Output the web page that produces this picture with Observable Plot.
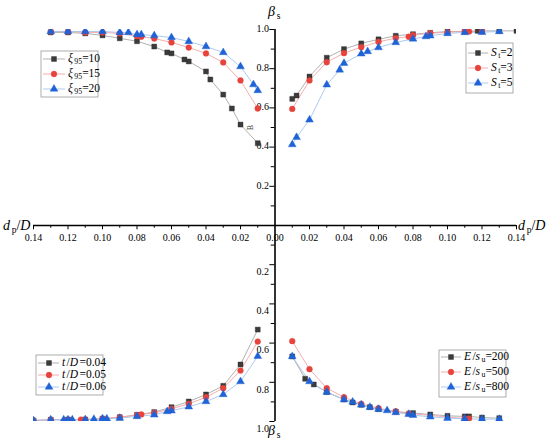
<!DOCTYPE html>
<html><head><meta charset="utf-8">
<script src="https://cdn.jsdelivr.net/npm/d3@7"></script>
<script src="https://cdn.jsdelivr.net/npm/@observablehq/plot@0.6"></script>
<style>body{margin:0;background:#fff} #chart{width:550px;height:447px}</style>
</head><body><div id="chart"></div>
<script>
// ---- Data: top-left quadrant (xi95), x = d_p/D, b = beta_s
const xi10_x = [0.13,0.12,0.11,0.10,0.09,0.08,0.07,0.0625,0.06,0.0525,0.05,0.04,0.0375,0.03,0.025,0.02,0.01];
const xi10_b = [0.985,0.985,0.98,0.97,0.955,0.94,0.913,0.883,0.878,0.847,0.837,0.786,0.745,0.668,0.597,0.515,0.42];
const xi15_x = [0.13,0.12,0.11,0.10,0.09,0.08,0.0775,0.07,0.06,0.05,0.04,0.03,0.02,0.01];
const xi15_b = [0.99,0.99,0.985,0.985,0.98,0.966,0.963,0.954,0.934,0.908,0.878,0.832,0.74,0.597];
const xi20_x = [0.13,0.12,0.11,0.10,0.09,0.085,0.08,0.0775,0.07,0.06,0.05,0.04,0.03,0.02,0.0125,0.01];
const xi20_b = [0.99,0.99,0.99,0.99,0.985,0.985,0.974,0.974,0.969,0.959,0.939,0.913,0.883,0.811,0.719,0.689];
// ---- top-right quadrant (S_t)
const st2_x = [0.01,0.0125,0.02,0.03,0.04,0.05,0.06,0.07,0.08,0.09,0.10,0.11,0.1175,0.12,0.13,0.14];
const st2_b = [0.646,0.663,0.76,0.856,0.90,0.929,0.95,0.968,0.976,0.983,0.99,0.99,0.993,0.993,0.993,0.993];
const st3_x = [0.01,0.02,0.03,0.04,0.05,0.06,0.07,0.0775,0.08,0.09,0.10,0.11,0.1125,0.12];
const st3_b = [0.595,0.74,0.833,0.879,0.91,0.937,0.956,0.963,0.971,0.981,0.986,0.99,0.99,0.99];
const st5_x = [0.01,0.0125,0.02,0.03,0.0375,0.04,0.05,0.0537,0.06,0.07,0.08,0.0875,0.09,0.10,0.11,0.12,0.13];
const st5_b = [0.413,0.45,0.539,0.718,0.794,0.828,0.876,0.888,0.908,0.934,0.952,0.964,0.968,0.98,0.985,0.986,0.99];
// ---- bottom-left quadrant (t/D)
const td04_x = [0.01,0.02,0.03,0.04,0.05,0.06,0.07,0.08,0.09,0.10,0.11,0.12,0.13,0.14];
const td04_b = [0.531,0.709,0.818,0.862,0.898,0.927,0.952,0.966,0.978,0.986,0.99,0.99,0.991,0.995];
const td05_x = [0.01,0.02,0.03,0.04,0.05,0.06,0.07,0.0775,0.08,0.09,0.10,0.11,0.1125,0.12,0.13,0.14];
const td05_b = [0.592,0.74,0.83,0.876,0.91,0.935,0.956,0.964,0.968,0.978,0.985,0.99,0.99,0.99,0.991,0.995];
const td06_x = [0.01,0.02,0.03,0.04,0.05,0.06,0.0625,0.07,0.08,0.09,0.0975,0.10,0.105,0.11,0.1175,0.12,0.1225,0.13,0.14];
const td06_b = [0.667,0.796,0.862,0.898,0.925,0.945,0.949,0.966,0.974,0.983,0.986,0.986,0.988,0.99,0.991,0.991,0.991,0.991,0.995];
// ---- bottom-right quadrant (E/s_u)
const es200_x = [0.01,0.0175,0.0225,0.03,0.04,0.045,0.05,0.055,0.06,0.07,0.08,0.09,0.10,0.11,0.1125,0.12,0.13];
const es200_b = [0.668,0.782,0.811,0.85,0.888,0.903,0.915,0.927,0.937,0.949,0.957,0.964,0.971,0.974,0.974,0.98,0.983];
const es500_x = [0.01,0.02,0.03,0.04,0.05,0.06,0.07,0.0775,0.11,0.1125];
const es500_b = [0.59,0.733,0.83,0.876,0.91,0.932,0.949,0.959,0.985,0.985];
const es800_x = [0.01,0.02,0.03,0.04,0.045,0.05,0.055,0.06,0.065,0.07,0.0775,0.08,0.09,0.10,0.11,0.12,0.13];
const es800_b = [0.668,0.796,0.85,0.888,0.90,0.915,0.927,0.937,0.944,0.954,0.963,0.968,0.976,0.983,0.986,0.988,0.988];

// tick labels
const xTickLabels = ["0.14","0.12","0.10","0.08","0.06","0.04","0.02","0.00","0.02","0.04","0.06","0.08","0.10","0.12","0.14"];
const yTickLabelsTop = ["0.2","0.4","0.6","0.8","1.0"];
const yTickLabelsBottom = ["0.2","0.4","0.6","0.8","1.0"];

// legend labels: [text, style] where style i=italic, sub=subscript
const legTL = [[["ξ","i"],["95","sub"],["=10",""]],[["ξ","i"],["95","sub"],["=15",""]],[["ξ","i"],["95","sub"],["=20",""]]];
const legTR = [[["S","i"],["t","sub"],["=2",""]],[["S","i"],["t","sub"],["=3",""]],[["S","i"],["t","sub"],["=5",""]]];
const legBL = [[["t","i"],["/",""],["D","i"],["=0.04",""]],[["t","i"],["/",""],["D","i"],["=0.05",""]],[["t","i"],["/",""],["D","i"],["=0.06",""]]];
const legBR = [[["E","i"],["/",""],["s","i"],["u","sub"],["=200",""]],[["E","i"],["/",""],["s","i"],["u","sub"],["=500",""]],[["E","i"],["/",""],["s","i"],["u","sub"],["=800",""]]];

const styles = [
  {symbol:"square", fill:"#3b3b3b", stroke:"#2a2a2a", line:"#a8a8a8", r:2.8},
  {symbol:"circle", fill:"#e8423c", stroke:"#e8423c", line:"#f3a5a3", r:2.9},
  {symbol:"triangle", fill:"#1f63d6", stroke:"#1f63d6", line:"#a3c4ef", r:2.9}
];

const series = [
  {xs:xi10_x, bs:xi10_b, sx:-1, sy:1, k:0},
  {xs:xi15_x, bs:xi15_b, sx:-1, sy:1, k:1},
  {xs:xi20_x, bs:xi20_b, sx:-1, sy:1, k:2},
  {xs:st2_x, bs:st2_b, sx:1, sy:1, k:0},
  {xs:st3_x, bs:st3_b, sx:1, sy:1, k:1},
  {xs:st5_x, bs:st5_b, sx:1, sy:1, k:2},
  {xs:td04_x, bs:td04_b, sx:-1, sy:-1, k:0},
  {xs:td05_x, bs:td05_b, sx:-1, sy:-1, k:1},
  {xs:td06_x, bs:td06_b, sx:-1, sy:-1, k:2},
  {xs:es200_x, bs:es200_b, sx:1, sy:-1, k:0},
  {xs:es500_x, bs:es500_b, sx:1, sy:-1, k:1},
  {xs:es800_x, bs:es800_b, sx:1, sy:-1, k:2}
];

const font = "'Liberation Serif', 'DejaVu Serif', 'Times New Roman', serif";
const marks = [];

marks.push(Plot.ruleY([0], {x1:-0.14, x2:0.14, stroke:"#000", strokeWidth:1.6}));
marks.push(Plot.ruleX([0], {y1:-1, y2:1, stroke:"#000", strokeWidth:1.6}));
const xTicks = d3.range(-14, 15).filter(i => i !== 0).map(i => ({v: i/100, major: i % 2 === 0}));
marks.push(Plot.ruleX(xTicks, {x:"v", y1:0, y2: d => d.major ? -0.022 : -0.014, stroke:"#000", strokeWidth:1}));
const xLabelVals = d3.range(-14, 15, 2).map(i => i/100);
marks.push(Plot.text(xLabelVals, {x: d => d, y: 0, dy: 12, text: (d, i) => xTickLabels[i], fontSize: 10, fill:"#000"}));
const yTicks = d3.range(-10, 11).filter(i => i !== 0).map(i => ({v: i/10, major: i % 2 === 0}));
marks.push(Plot.ruleY(yTicks, {y:"v", x1:0, x2: d => d.major ? -0.003 : -0.0022, stroke:"#000", strokeWidth:1}));
const yLabTop = [0.2,0.4,0.6,0.8,1.0];
marks.push(Plot.text(yLabTop, {x:0, y: d => d, dx:-6, dy:-1, textAnchor:"end", text:(d,i)=>yTickLabelsTop[i], fontSize:10, fill:"#000"}));
marks.push(Plot.text(yLabTop, {x:0, y: d => -d, dx:-6, dy:7, textAnchor:"end", text:(d,i)=>yTickLabelsBottom[i], fontSize:10, fill:"#000"}));

for (const s of series) {
  const st = styles[s.k];
  const rows = s.xs.map((x, i) => ({x: s.sx * x, y: s.sy * s.bs[i]}));
  marks.push(Plot.line(rows, {x:"x", y:"y", stroke: st.line, strokeWidth: 0.9, clip: true}));
}
for (const k of [0,1,2]) {
  for (const s of series.filter(d => d.k === k)) {
    const st = styles[s.k];
    const rows = s.xs.map((x, i) => ({x: s.sx * x, y: s.sy * s.bs[i]}));
    marks.push(Plot.dot(rows, {x:"x", y:"y", symbol: st.symbol, r: st.r, fill: st.fill, stroke: st.stroke, strokeWidth: 0.4, clip: true}));
  }
}
marks.push(Plot.text(["B"], {x: -0.0145, y: 0.5, text: d => d, rotate: -90, fontSize: 8, fill:"#444"}));

const plot = Plot.plot({
  width: 550, height: 447,
  marginLeft: 33, marginRight: 34, marginTop: 29, marginBottom: 26,
  x: {domain: [-0.14, 0.14], axis: null},
  y: {domain: [-1, 1], axis: null},
  style: {background: "#fff", color: "#000"},
  marks
});
plot.setAttribute("font-family", font);
plot.style.fontFamily = font;
document.getElementById("chart").appendChild(plot);

const svg = d3.select(plot);
svg.selectAll("text").style("font-family", font);
const g = svg.append("g").style("font-family", font).attr("fill", "#000");

function rich(parent, x, y, parts, size, anchor) {
  const t = parent.append("text").attr("x", x).attr("y", y).attr("font-size", size)
    .style("font-family", font)
    .attr("text-anchor", anchor || "start").attr("dominant-baseline", "middle");
  let shifted = false, prevItalic = false;
  for (const [txt, sty] of parts) {
    const ts = t.append("tspan").text(txt);
    if (prevItalic) ts.attr("dx", size * 0.12);
    if (sty === "i") ts.attr("font-style", "italic");
    if (sty === "sub") {
      ts.attr("font-size", size * 0.68).attr("dy", size * 0.3);
      shifted = true;
    } else if (shifted) {
      ts.attr("dy", -size * 0.3);
      shifted = false;
    }
    prevItalic = sty === "i";
  }
  return t;
}

rich(g, 268, 13, [["β","i"],["s","sub"]], 14);
rich(g, 268, 432, [["β","i"],["s","sub"]], 14);
rich(g, 3, 227, [["d","i"],["p","sub"],["/",""],["D","i"]], 14);
rich(g, 518, 227, [["d","i"],["p","sub"],["/",""],["D","i"]], 14);

function legend(box, rowsY, lx0, lx1, mx, tx, labels) {
  g.append("rect").attr("x", box[0]).attr("y", box[1]).attr("width", box[2]-box[0]).attr("height", box[3]-box[1])
    .attr("fill", "#fff").attr("stroke", "#9a9a9a").attr("stroke-width", 0.8);
  labels.forEach((lab, i) => {
    const st = styles[i], y = rowsY[i];
    g.append("line").attr("x1", lx0).attr("x2", lx1).attr("y1", y).attr("y2", y).attr("stroke", st.line).attr("stroke-width", 0.9);
    const sym = {square: d3.symbolSquare, circle: d3.symbolCircle, triangle: d3.symbolTriangle}[st.symbol];
    g.append("path").attr("d", d3.symbol(sym, st.r * st.r * Math.PI)()).attr("transform", `translate(${mx},${y})`)
      .attr("fill", st.fill).attr("stroke", st.stroke).attr("stroke-width", 0.4);
    rich(g, tx, y, lab, 11.5);
  });
}
legend([41,51,98,97], [59,74,89], 43, 65, 54, 68, legTL);
legend([466,43,513,93], [53,68,83], 468, 488, 478, 491, legTR);
legend([36,355,103,395], [363,375,387], 38, 59, 49, 62, legBL);
legend([439,350,506,397], [357,372,387], 441, 461, 451, 464, legBR);
</script></body></html>
